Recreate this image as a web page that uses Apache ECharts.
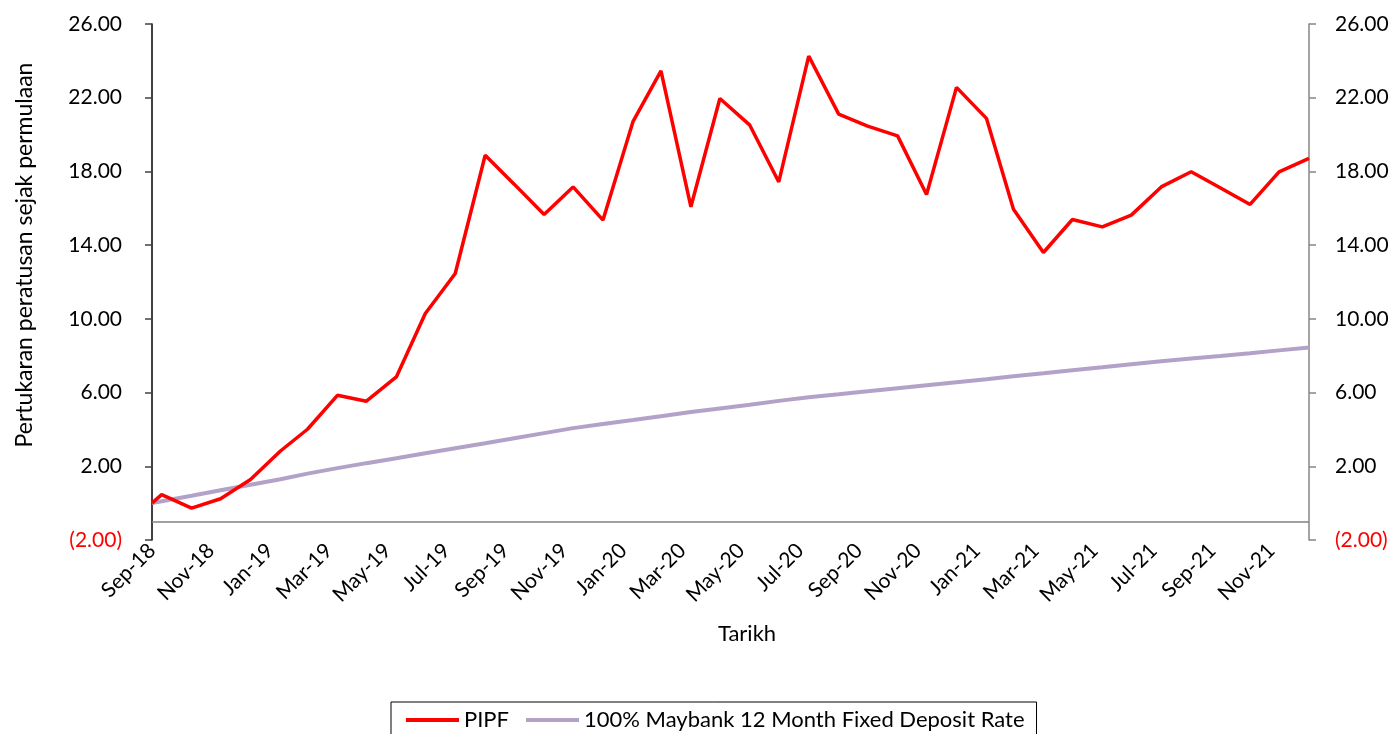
<!DOCTYPE html>
<html>
<head>
<meta charset="utf-8">
<script src="https://cdn.jsdelivr.net/npm/echarts@6/dist/echarts.min.js"></script>
<style>
  html, body { margin: 0; padding: 0; background: #fff; }
  #chart { width: 1396px; height: 734px; }
</style>
</head>
<body>
<div id="chart"></div>
<script>
// launch date, then month-end valuation dates
const launchDate = '2018-09-20';
const dates = [
  '2018-09-20', '2018-09-30', '2018-10-31', '2018-11-30', '2018-12-31',
  '2019-01-31', '2019-02-28', '2019-03-31', '2019-04-30', '2019-05-31', '2019-06-30',
  '2019-07-31', '2019-08-31', '2019-09-30', '2019-10-31', '2019-11-30', '2019-12-31',
  '2020-01-31', '2020-02-29', '2020-03-31', '2020-04-30', '2020-05-31', '2020-06-30',
  '2020-07-31', '2020-08-31', '2020-09-30', '2020-10-31', '2020-11-30', '2020-12-31',
  '2021-01-31', '2021-02-28', '2021-03-31', '2021-04-30', '2021-05-31', '2021-06-30',
  '2021-07-31', '2021-08-31', '2021-09-30', '2021-10-31', '2021-11-30', '2021-12-31'
];
const pipf = [
  0.00, 0.46, -0.27, 0.24, 1.28,
  2.83, 4.01, 5.85, 5.53, 6.85, 10.29,
  12.46, 18.88, 17.31, 15.66, 17.16, 15.36,
  20.70, 23.46, 16.08, 21.96, 20.51, 17.43,
  24.26, 21.11, 20.46, 19.93, 16.75, 22.56,
  20.88, 15.95, 13.60, 15.39, 14.99, 15.63,
  17.16, 17.98, 17.11, 16.21, 17.98, 18.71
];
const maybankFd = [
  0.00, 0.10, 0.40, 0.70, 1.00,
  1.30, 1.60, 1.90, 2.17, 2.44, 2.71,
  2.98, 3.25, 3.52, 3.80, 4.07, 4.29,
  4.51, 4.72, 4.94, 5.14, 5.34, 5.55,
  5.75, 5.91, 6.07, 6.24, 6.40, 6.56,
  6.72, 6.89, 7.05, 7.21, 7.37, 7.54,
  7.70, 7.85, 7.99, 8.14, 8.29, 8.44
];
const monthNames = ['Jan', 'Feb', 'Mar', 'Apr', 'May', 'Jun', 'Jul', 'Aug', 'Sep', 'Oct', 'Nov', 'Dec'];

const DAY = 86400000;
const t0 = Date.parse(launchDate);
const dayOf = d => Math.round((Date.parse(d) - t0) / DAY);
const lastDay = dayOf(dates[dates.length - 1]);

function monthLabel(v) {
  const d = new Date(t0 + v * DAY);
  return monthNames[d.getUTCMonth()] + '-' + String(d.getUTCFullYear()).slice(2);
}
function yLabel(v) {
  if (v < 0) return '{neg|(' + Math.abs(v).toFixed(2) + ')}';
  return v.toFixed(2);
}

const font = 'Lato, "Open Sans", sans-serif';
const yLabelStyle = {
  fontFamily: font, fontSize: 21, color: '#000',
  formatter: yLabel,
  rich: { neg: { color: '#ff0000', fontFamily: font, fontSize: 21 } }
};

const chart = echarts.init(document.getElementById('chart'), null, { renderer: 'canvas' });
chart.setOption({
  animation: false,
  textStyle: { fontFamily: font },
  grid: { left: 152, right: 87, top: 24, bottom: 194, containLabel: false },
  legend: {
    left: 391, top: 702,
    padding: [7, 12, 20, 15],
    borderColor: '#000', borderWidth: 1,
    icon: 'rect',
    itemWidth: 53, itemHeight: 4, itemGap: 17,
    textStyle: { fontFamily: font, fontSize: 22, color: '#000' },
    data: ['PIPF', '100% Maybank 12 Month Fixed Deposit Rate']
  },
  xAxis: {
    type: 'value',
    min: 0, max: lastDay, interval: 61,
    name: 'Tarikh',
    nameLocation: 'middle', nameGap: 83,
    nameTextStyle: { fontFamily: font, fontSize: 22, color: '#000', padding: [0, 0, 0, 33] },
    axisLine: { show: false },
    axisTick: { show: false },
    splitLine: { show: false },
    axisLabel: {
      rotate: 45, margin: 7, fontFamily: font, fontSize: 21, color: '#000',
      showMaxLabel: false, formatter: monthLabel
    }
  },
  yAxis: [{
    type: 'value', position: 'left',
    min: -2, max: 26, interval: 4,
    name: 'Pertukaran peratusan sejak permulaan',
    nameLocation: 'middle', nameGap: 116, nameRotate: 90,
    nameTextStyle: { fontFamily: font, fontSize: 23, color: '#000', padding: [0, 0, 0, 54] },
    axisLine: { show: true, lineStyle: { color: '#000', width: 1.5 } },
    axisTick: { show: true, inside: false, length: 7, lineStyle: { color: '#404040', width: 1.5 } },
    splitLine: { show: false },
    axisLabel: Object.assign({ margin: 30 }, yLabelStyle)
  }, {
    type: 'value', position: 'right',
    min: -2, max: 26, interval: 4,
    axisLine: { show: true, lineStyle: { color: '#868686', width: 1.5 } },
    axisTick: { show: true, inside: false, length: 7, lineStyle: { color: '#868686', width: 1.5 } },
    splitLine: { show: false },
    axisLabel: Object.assign({ margin: 26 }, yLabelStyle)
  }],
  series: [{
    name: 'PIPF',
    type: 'line',
    yAxisIndex: 0,
    symbol: 'none',
    lineStyle: { color: '#ff0000', width: 3.5 },
    itemStyle: { color: '#ff0000' },
    data: dates.map((d, i) => [dayOf(d), pipf[i]]),
    z: 3,
    markLine: {
      silent: true, symbol: 'none',
      label: { show: false },
      lineStyle: { color: '#808080', width: 1.5, type: 'solid' },
      data: [{ yAxis: -1 }]
    }
  }, {
    name: '100% Maybank 12 Month Fixed Deposit Rate',
    type: 'line',
    yAxisIndex: 0,
    symbol: 'none',
    lineStyle: { color: '#b3a2c7', width: 4 },
    itemStyle: { color: '#b3a2c7' },
    data: dates.map((d, i) => [dayOf(d), maybankFd[i]]),
    z: 2
  }]
});
</script>
</body>
</html>
